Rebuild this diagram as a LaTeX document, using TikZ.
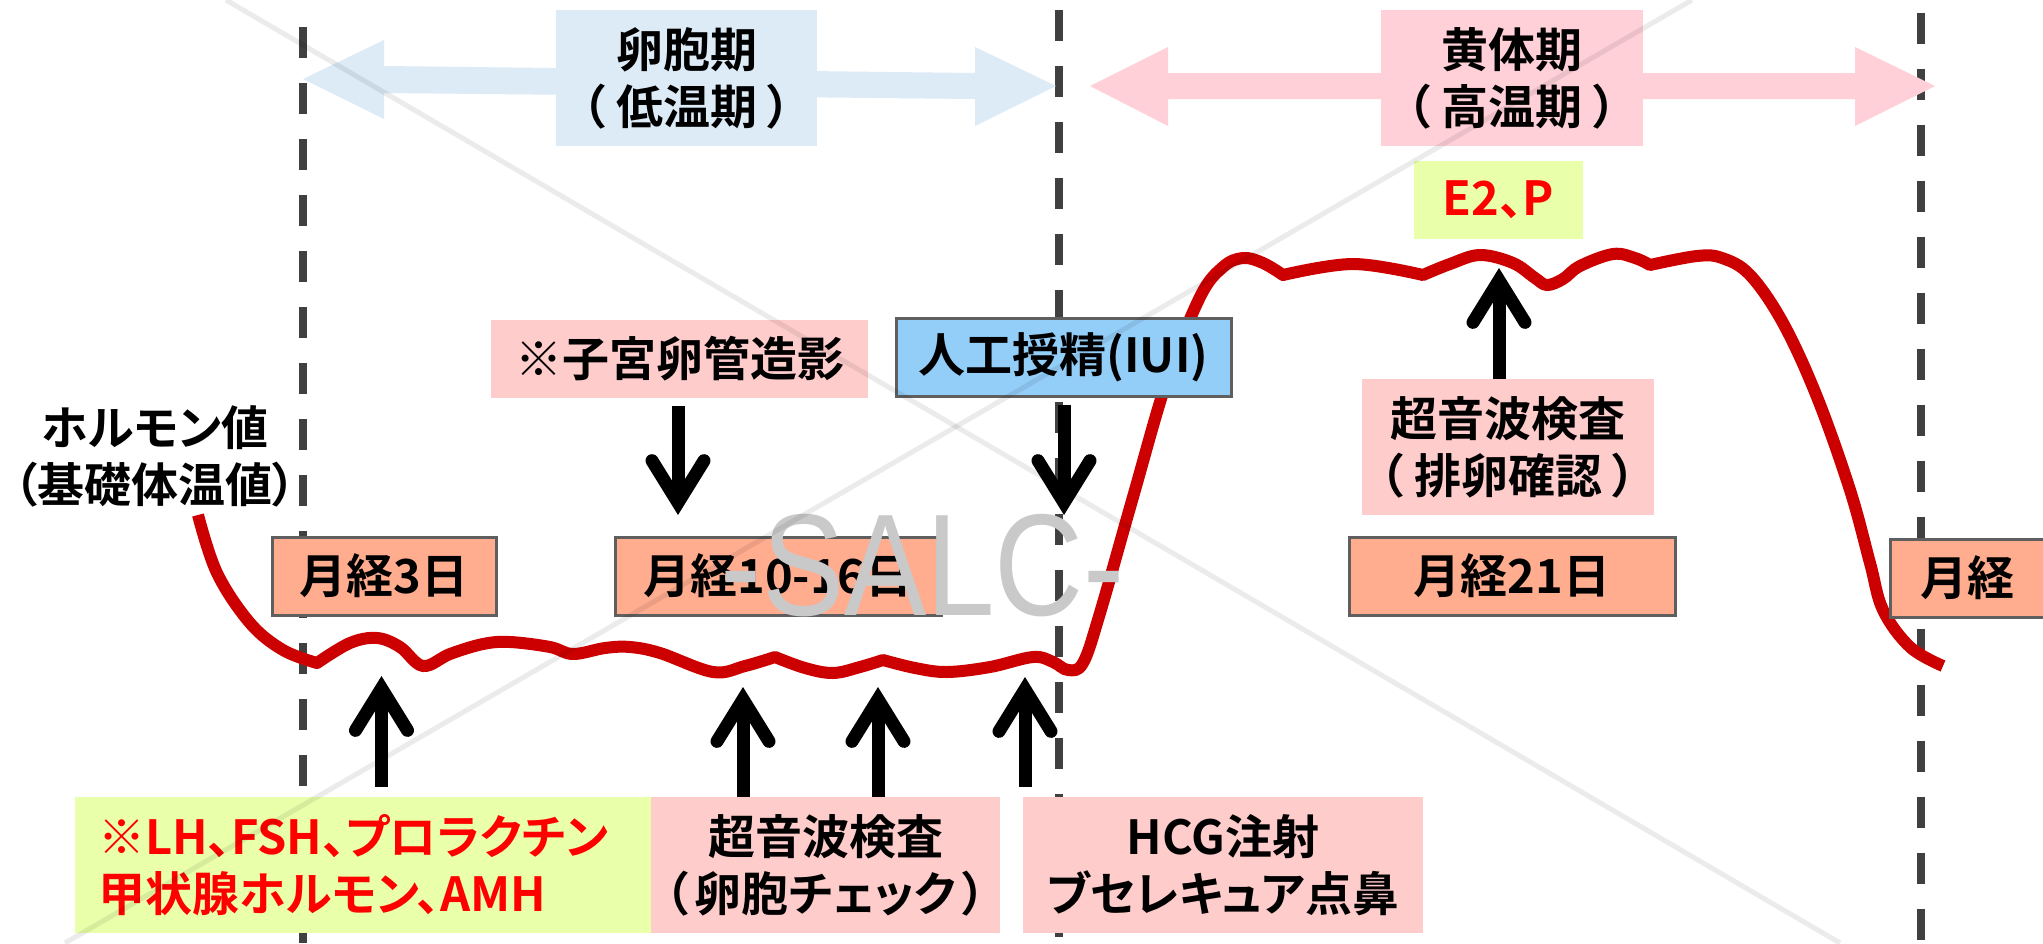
\documentclass[tikz,border=0pt]{standalone}
\usepackage{fontspec}
\usetikzlibrary{arrows.meta}
\newfontfamily\jp[BoldFont={Noto Sans CJK JP Bold},RawFeature=+palt]{Noto Sans CJK JP}
\newfontfamily\wmf{Liberation Sans}
\definecolor{blueL}{HTML}{DDEBF7}
\definecolor{pinkA}{HTML}{FFD0D8}
\definecolor{pinkB}{HTML}{FFCCCC}
\definecolor{yellowG}{HTML}{E9FFA9}
\definecolor{salmon}{HTML}{FFAC8F}
\definecolor{sky}{HTML}{93CEF9}
\definecolor{curveRed}{HTML}{CC0000}
\definecolor{txtRed}{HTML}{FF0000}
\definecolor{dashGray}{HTML}{404040}
\definecolor{borderGray}{HTML}{5F5F5F}
\definecolor{wmGray}{HTML}{C9C9C9}
\newcommand{\pgap}{\hspace{11pt}}
\tikzset{
  jpfont/.style={font=\jp\bfseries\fontsize{47}{57}\selectfont},
  box/.style={inner sep=0pt, align=center, jpfont},
  daybox/.style={box, fill=salmon, draw=borderGray, line width=3pt, minimum height=78pt},
  vdash/.style={dashGray, line width=7.5pt, dash pattern=on 31pt off 25pt},
  curve/.style={curveRed, line width=12pt, line join=round},
  arr/.style={line width=13pt, -{Straight Barb[length=42pt,width=52pt,line cap=round,line join=miter]}},
  wmline/.style={black, opacity=0.08, line width=5pt},
}
\begin{document}
\begin{tikzpicture}[x=1pt,y=-1pt]
\useasboundingbox (0,0) rectangle (2043,943);
\fill[white] (0,0) rectangle (2043,943);
% dashed period separators
\draw[vdash] (303,27) -- (303,943);
\draw[vdash] (1059,10) -- (1059,943);
\draw[vdash] (1921,13) -- (1921,943);
% phase double arrows
\fill[blueL] (303,79) -- (384,40) -- (384,66) -- (975,73) -- (975,47) -- (1056,86) -- (975,126) -- (975,99) -- (384,93) -- (384,119) -- cycle;
\fill[pinkA] (1090,86) -- (1168,47) -- (1168,73) -- (1855,73) -- (1855,47) -- (1935,86) -- (1855,126) -- (1855,99) -- (1168,99) -- (1168,126) -- cycle;
% curve
\draw[curve] plot[smooth,tension=.6] coordinates {(198,515) (217,573) (250,623) (283,650) (317,663)}
 -- plot[smooth,tension=.6] coordinates {(317,663) (350,643) (377,638) (400,647) (423,666) (450,654) (483,644) (510,642) (550,647) (573,654) (605,648) (630,647) (660,653) (713,672) (745,666) (775,657)}
 -- plot[smooth,tension=.6] coordinates {(775,657) (805,668) (833,673) (860,667) (883,660)}
 -- plot[smooth,tension=.6] coordinates {(883,660) (915,668) (947,672) (990,667) (1033,657) (1053,662) (1068,670) (1083,663) (1100,613) (1133,497) (1167,380) (1200,297) (1223,267) (1243,258) (1263,263) (1283,275)}
 -- plot[smooth,tension=.6] coordinates {(1283,275) (1353,264) (1423,275)}
 -- plot[smooth,tension=.6] coordinates {(1423,275) (1450,264) (1480,255) (1513,263) (1535,278) (1547,285) (1563,279) (1580,266) (1613,254) (1635,258) (1650,265)}
 -- plot[smooth,tension=.6] coordinates {(1650,265) (1697,256) (1722,258) (1750,275) (1783,323) (1817,397) (1850,490) (1870,563) (1883,610) (1910,647) (1943,666)};
% boxes
\node[box, fill=blueL, minimum width=261pt, minimum height=136pt] (fol) at (686.5,78) {卵胞期\\（\pgap 低温期\pgap ）};
\node[box, fill=pinkA, minimum width=262pt, minimum height=136pt] (lut) at (1512,78) {黄体期\\（\pgap 高温期\pgap ）};
\node[box, fill=yellowG, text=txtRed, minimum width=169pt, minimum height=78pt] (e2) at (1498.5,200) {E2、P};
\node[box, fill=pinkB, minimum width=377pt, minimum height=78pt] (hsg) at (679.5,359) {※子宮卵管造影};
\node[box, fill=sky, draw=borderGray, line width=3pt, minimum width=335pt, minimum height=78pt] (iui) at (1063.5,357) {人工授精(IUI)};
\node[box] (horm) at (155,456) {ホルモン値\\（基礎体温値）};
\node[daybox, minimum width=224pt] (d3) at (384,576) {月経3日};
\node[daybox, minimum width=326pt] (d10) at (778,576) {月経10-16日};
\node[daybox, minimum width=326pt] (d21) at (1512,576) {月経21日};
\node[daybox, minimum width=170pt] (dn) at (1975,578) {月経\hspace{16pt}};
\node[box, fill=pinkB, minimum width=292pt, minimum height=136pt] (ovu) at (1508,447) {超音波検査\\（\pgap 排卵確認\pgap ）};
\node[box, fill=yellowG, text=txtRed, minimum width=576pt, minimum height=136pt, text width=530pt, align=left] (lh) at (363,865) {※LH、FSH、プロラクチン\\甲状腺ホルモン、AMH};
\node[box, fill=pinkB, minimum width=349pt, minimum height=136pt] (us2) at (825.5,865) {超音波検査\\（\hspace{6pt}卵胞チェック\hspace{6pt}）};
\node[box, fill=pinkB, minimum width=400pt, minimum height=136pt] (hcg) at (1223,865) {HCG注射\\ブセレキュア点鼻};
% arrow targets on the curve
\coordinate (t1) at (381.5,676);
\coordinate (t2) at (743,687);
\coordinate (t3) at (878,687);
\coordinate (t4) at (1025,677);
\coordinate (t5) at (678,515);
\coordinate (t6) at (1064,515);
\coordinate (t7) at (1499,268);
% arrows
\draw[arr, shorten <=10pt] (lh.north -| t1) -- (t1);
\draw[arr] (us2.north -| t2) -- (t2);
\draw[arr] (us2.north -| t3) -- (t3);
\draw[arr, shorten <=10pt] (hcg.north -| t4) -- (t4);
\draw[arr, shorten <=8pt] (hsg.south -| t5) -- (t5);
\draw[arr, shorten <=7pt] (iui.south -| t6) -- (t6);
\draw[arr] (ovu.north -| t7) -- (t7);
% watermark
\node[anchor=base, inner sep=0pt, text=wmGray, font=\wmf\fontsize{145}{145}\selectfont] (salc) at (923,615) {\scalebox{0.85}[1]{-SALC-}};
\draw[wmline] (226,0) -- (1840,943);
\draw[wmline] (1692,0) -- (65,943);
\end{tikzpicture}
\end{document}
